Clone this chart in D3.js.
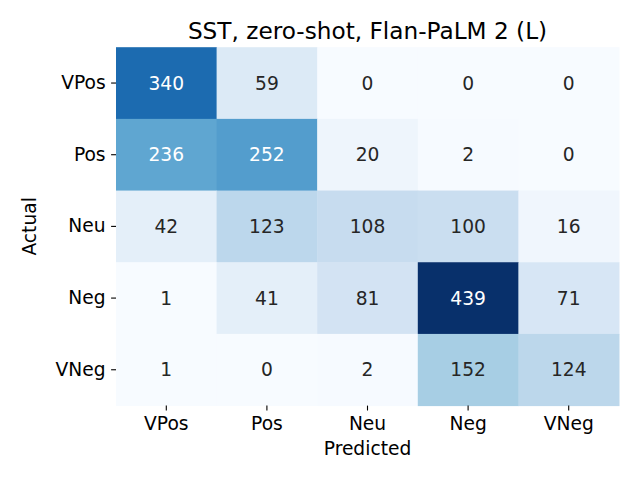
<!DOCTYPE html>
<html>
<head>
<meta charset="utf-8">
<script src="https://cdn.jsdelivr.net/npm/d3@7"></script>
<style>
html,body{margin:0;padding:0;background:#fff;}
svg{display:block;font-family:"DejaVu Sans",sans-serif;}
</style>
</head>
<body>
<svg id="chart" width="640" height="480"></svg>
<script>
const actualLabels = ["VPos","Pos","Neu","Neg","VNeg"];
const predictedLabels = ["VPos","Pos","Neu","Neg","VNeg"];
const matrix = [
  [340, 59, 0, 0, 0],
  [236, 252, 20, 2, 0],
  [42, 123, 108, 100, 16],
  [1, 41, 81, 439, 71],
  [1, 0, 2, 152, 124]
];
const titleText = "SST, zero-shot, Flan-PaLM 2 (L)";
const xTitle = "Predicted";
const yTitle = "Actual";

const bluesStops = ["#f7fbff","#deebf7","#c6dbef","#9ecae1","#6baed6","#4292c6","#2171b5","#08519c","#08306b"];

const svg = d3.select("#chart");
const m = {left:116, right:619, top:47.2, bottom:405.6};
const fs = 18.67;

const x = d3.scaleBand().domain(predictedLabels).range([m.left, m.right]).padding(0);
const y = d3.scaleBand().domain(actualLabels).range([m.top, m.bottom]).padding(0);

const vmax = d3.max(matrix.flat()), vmin = d3.min(matrix.flat());
const color = d3.scaleLinear()
  .domain(bluesStops.map((d,i)=> vmin + (vmax-vmin)*i/(bluesStops.length-1)))
  .range(bluesStops)
  .interpolate(d3.interpolateRgb);

function lum(c){
  const rgb = d3.rgb(c);
  const f = v => { v/=255; return v <= 0.03928 ? v/12.92 : Math.pow((v+0.055)/1.055, 2.4); };
  return 0.2126*f(rgb.r)+0.7152*f(rgb.g)+0.0722*f(rgb.b);
}

const cells = [];
matrix.forEach((row,i)=>row.forEach((v,j)=>cells.push({r:actualLabels[i], c:predictedLabels[j], v})));

svg.append("g").selectAll("rect").data(cells).join("rect")
  .attr("x", d=>x(d.c)).attr("y", d=>y(d.r))
  .attr("width", x.bandwidth()+0.5).attr("height", y.bandwidth()+0.5)
  .attr("fill", d=>color(d.v));

svg.append("g").selectAll("text").data(cells).join("text")
  .attr("x", d=>x(d.c)+x.bandwidth()/2).attr("y", d=>y(d.r)+y.bandwidth()/2)
  .attr("text-anchor","middle").attr("dominant-baseline","central")
  .attr("font-size", fs)
  .attr("fill", d=> lum(color(d.v)) > 0.408 ? "#262626" : "#ffffff")
  .text(d=>d.v);

const xAxis = svg.append("g").attr("transform",`translate(0,${m.bottom})`)
  .call(d3.axisBottom(x).tickSize(4.9).tickPadding(6));
const yAxis = svg.append("g").attr("transform",`translate(${m.left},0)`)
  .call(d3.axisLeft(y).tickSize(4.9).tickPadding(5.5));
[xAxis,yAxis].forEach(a=>{
  a.select(".domain").remove();
  a.selectAll("text").attr("font-size", fs).attr("font-family","DejaVu Sans").attr("fill","#000");
  a.selectAll("line").attr("stroke","#000").attr("stroke-width",1.1);
});

svg.append("text").attr("x",(m.left+m.right)/2).attr("y",39)
  .attr("text-anchor","middle").attr("font-size",23.2).attr("fill","#000").text(titleText);
svg.append("text").attr("x",(m.left+m.right)/2).attr("y",455)
  .attr("text-anchor","middle").attr("font-size",fs).attr("fill","#000").text(xTitle);
svg.append("text").attr("transform",`translate(35.5,${(m.top+m.bottom)/2}) rotate(-90)`)
  .attr("text-anchor","middle").attr("font-size",fs).attr("fill","#000").text(yTitle);
</script>
</body>
</html>
